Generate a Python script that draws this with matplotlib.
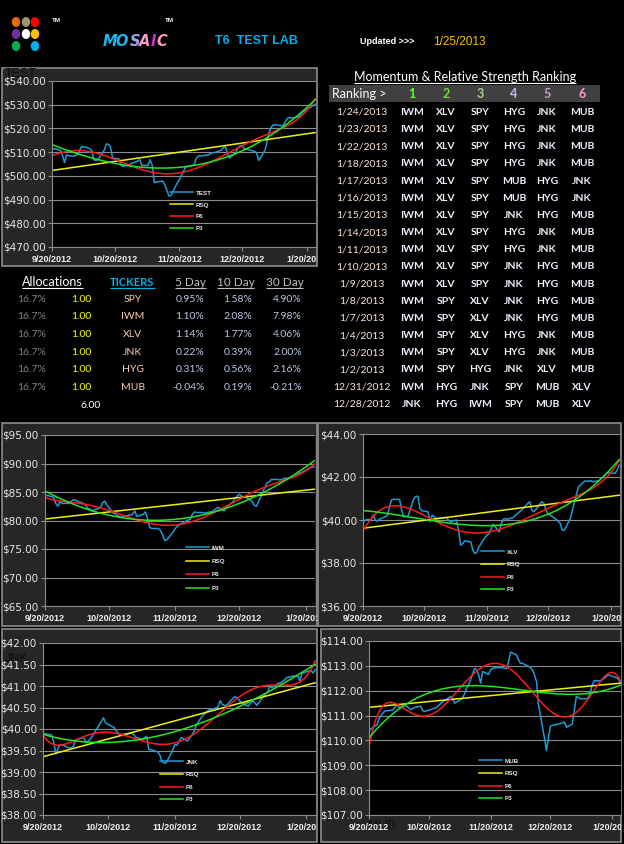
import matplotlib
matplotlib.use("Agg")
import matplotlib.pyplot as plt
import matplotlib.dates as mdates
from matplotlib.patches import Rectangle, Ellipse
from matplotlib.transforms import Bbox, TransformedBbox
import numpy as np
import pandas as pd

W, H = 624, 844

# trading days on the charts (market closed on these)
closed = ["2012-10-29", "2012-10-30", "2012-11-22", "2012-12-25", "2013-01-01", "2013-01-21"]
dates = pd.bdate_range("2012-09-20", "2013-01-24").drop(pd.to_datetime(closed))

test_px = [511.0, 511.5, 510.8, 508.7, 505.6, 508.9, 508.4, 508.4, 508.9, 510.3,
           512.2, 512.4, 511.5, 510.8, 506.8, 506.5, 506.8, 510.8, 513.4, 513.3,
           512.4, 507.5, 507.2, 504.4, 504.0, 504.2, 504.4, 506.3, 506.8, 504.4,
           504.4, 506.8, 504.4, 497.1, 497.4, 497.8, 496.4, 493.9, 491.5, 491.8,
           497.1, 498.4, 500.2, 503.7, 504.4, 504.7, 507.2, 508.4, 508.4, 508.7,
           508.9, 509.4, 509.8, 509.8, 510.8, 511.9, 512.4, 509.4, 507.5, 509.8,
           511.7, 512.6, 512.9, 511.5, 510.8, 510.3, 509.4, 506.5, 510.8, 518.5,
           520.6, 521.6, 521.3, 521.0, 521.6, 523.4, 524.5, 524.5, 524.7, 524.8,
           525.8, 526.9, 529.0, 529.7, 530.2]
iwm_px = [84.3, 84.4, 84.1, 83.0, 82.5, 83.3, 83.0, 83.0, 83.3, 83.6,
          83.6, 83.4, 83.0, 82.7, 82.1, 82.0, 81.7, 82.1, 82.3, 83.1,
          83.4, 82.7, 81.3, 81.1, 80.8, 80.7, 80.6, 81.1, 81.7, 80.7,
          81.1, 81.5, 80.4, 78.8, 78.6, 78.6, 78.3, 77.5, 76.5, 76.6,
          78.0, 78.6, 79.0, 79.5, 80.1, 80.2, 81.1, 81.5, 81.4, 81.4,
          81.3, 81.4, 81.5, 81.5, 82.3, 82.1, 81.8, 81.7, 82.3, 83.3,
          83.9, 84.3, 84.6, 84.3, 83.9, 83.3, 82.7, 82.5, 85.1, 86.6,
          86.8, 87.2, 87.2, 87.1, 87.2, 87.4, 87.4, 87.6, 87.8, 88.0,
          88.3, 88.4, 89.2, 89.4, 89.4]
xlv_px = [39.85, 40.0, 40.03, 40.23, 40.0, 39.95, 40.03, 40.15, 40.23, 40.58,
          40.93, 40.96, 40.96, 40.46, 40.15, 40.15, 40.15, 41.0, 41.1, 41.1,
          40.54, 40.43, 40.38, 39.92, 40.23, 40.15, 40.07, 40.12, 40.0, 39.92,
          40.0, 39.53, 38.83, 38.9, 39.03, 38.98, 38.6, 38.44, 38.5, 38.75,
          39.18, 39.3, 39.37, 39.8, 39.45, 39.84, 40.03, 40.07, 40.03, 40.12,
          40.23, 40.3, 40.38, 40.46, 40.77, 40.85, 40.46, 40.38, 40.49, 40.85,
          40.77, 40.46, 40.27, 40.23, 40.03, 39.84, 39.53, 39.53, 40.07, 40.85,
          41.2, 41.55, 41.81, 41.81, 41.81, 41.83, 41.78, 41.83, 41.93, 41.98,
          42.09, 42.2, 42.17, 42.32, 42.55]
jnk_px = [39.89, 39.89, 39.86, 39.68, 39.42, 39.56, 39.64, 39.59, 39.56, 39.56,
          39.59, 39.73, 39.8, 39.78, 39.68, 39.72, 39.77, 40.01, 40.09, 40.18,
          40.26, 40.14, 40.06, 40.03, 39.95, 39.89, 39.87, 39.9, 39.87, 39.81,
          39.76, 39.8, 39.83, 39.52, 39.52, 39.47, 39.41, 39.25, 39.21, 39.21,
          39.5, 39.64, 39.62, 39.8, 39.72, 39.8, 39.86, 39.95, 40.09, 40.32,
          40.35, 40.41, 40.45, 40.45, 40.51, 40.66, 40.57, 40.55, 40.55, 40.72,
          40.75, 40.72, 40.66, 40.61, 40.53, 40.66, 40.61, 40.55, 40.76, 40.86,
          40.99, 40.96, 41.07, 41.07, 41.11, 41.15, 41.2, 41.23, 41.23, 41.23,
          41.11, 41.3, 41.36, 41.3, 41.38]
mub_px = [110.37, 110.47, 110.63, 110.87, 111.01, 111.1, 111.19, 111.21, 111.23, 111.33,
          111.44, 111.33, 111.41, 111.37, 111.3, 111.23, 111.3, 111.37, 111.37, 111.19,
          111.17, 111.19, 111.27, 111.3, 111.33, 111.41, 111.5, 111.77, 111.68, 111.5,
          111.64, 111.7, 111.9, 112.1, 112.24, 112.9, 112.84, 112.64, 112.3, 112.77,
          112.66, 112.84, 112.9, 112.93, 112.93, 112.9, 112.88, 113.17, 113.55, 113.44,
          113.24, 113.1, 113.1, 113.06, 112.93, 112.84, 112.64, 112.37, 111.44, 110.1,
          109.59, 110.1, 110.57, 110.61, 110.66, 110.7, 110.74, 110.53, 110.66, 111.77,
          111.73, 111.68, 111.68, 111.73, 111.94, 112.24, 112.4, 112.4, 112.44, 112.5,
          112.57, 112.64, 112.53, 112.48, 112.34]

test_ticks = [470, 480, 490, 500, 510, 520, 530, 540]
iwm_ticks = [65, 70, 75, 80, 85, 90, 95]
xlv_ticks = [36, 38, 40, 42, 44]
jnk_ticks = [38.0, 38.5, 39.0, 39.5, 40.0, 40.5, 41.0, 41.5, 42.0]
mub_ticks = [107, 108, 109, 110, 111, 112, 113, 114]

tick_dates = ["2012-09-20", "2012-10-20", "2012-11-20", "2012-12-20", "2013-01-20"]
tick_labels = ["9/20/2012", "10/20/2012", "11/20/2012", "12/20/2012", "1/20/2013"]

# ranking table
rank_dates = ["1/24/2013", "1/23/2013", "1/22/2013", "1/18/2013", "1/17/2013", "1/16/2013",
              "1/15/2013", "1/14/2013", "1/11/2013", "1/10/2013", "1/9/2013", "1/8/2013",
              "1/7/2013", "1/4/2013", "1/3/2013", "1/2/2013", "12/31/2012", "12/28/2012"]
rank_rows = [
    ["IWM", "XLV", "SPY", "HYG", "JNK", "MUB"],
    ["IWM", "XLV", "SPY", "HYG", "JNK", "MUB"],
    ["IWM", "XLV", "SPY", "HYG", "JNK", "MUB"],
    ["IWM", "XLV", "SPY", "HYG", "JNK", "MUB"],
    ["IWM", "XLV", "SPY", "MUB", "HYG", "JNK"],
    ["IWM", "XLV", "SPY", "MUB", "HYG", "JNK"],
    ["IWM", "XLV", "SPY", "JNK", "HYG", "MUB"],
    ["IWM", "XLV", "SPY", "HYG", "JNK", "MUB"],
    ["IWM", "XLV", "SPY", "HYG", "JNK", "MUB"],
    ["IWM", "XLV", "SPY", "JNK", "HYG", "MUB"],
    ["IWM", "XLV", "SPY", "JNK", "HYG", "MUB"],
    ["IWM", "SPY", "XLV", "JNK", "HYG", "MUB"],
    ["IWM", "SPY", "XLV", "JNK", "HYG", "MUB"],
    ["IWM", "SPY", "XLV", "HYG", "JNK", "MUB"],
    ["IWM", "SPY", "XLV", "HYG", "JNK", "MUB"],
    ["IWM", "SPY", "HYG", "JNK", "XLV", "MUB"],
    ["IWM", "HYG", "JNK", "SPY", "MUB", "XLV"],
    ["JNK", "HYG", "IWM", "SPY", "MUB", "XLV"],
]

# allocations table
alloc_pct = [16.7, 16.7, 16.7, 16.7, 16.7, 16.7]
alloc_units = [1.00, 1.00, 1.00, 1.00, 1.00, 1.00]
tickers = ["SPY", "IWM", "XLV", "JNK", "HYG", "MUB"]
ret_5d = [0.95, 1.10, 1.14, 0.22, 0.31, -0.04]
ret_10d = [1.58, 2.08, 1.77, 0.39, 0.56, 0.19]
ret_30d = [4.90, 7.98, 4.06, 2.00, 2.16, -0.21]

BLUE, YEL, RED, GRN = "#1e9ad6", "#f0f010", "#ff1a1a", "#22e622"
GRID = "#8c8c8c"
LAB = "Lato"

fig = plt.figure(figsize=(W / 100, H / 100), dpi=100, facecolor="black")
bg = fig.add_axes([0, 0, 1, 1])
bg.set_xlim(0, W)
bg.set_ylim(H, 0)
bg.axis("off")


def fig_rect(x0, y0, x1, y1):
    return [x0 / W, 1 - y1 / H, (x1 - x0) / W, (y1 - y0) / H]


xnum = mdates.date2num(dates)
tick_num = mdates.date2num(pd.to_datetime(tick_dates))


def chart(plot, box, name, px, yticks, leg, title=None):
    x0, y0, x1, y1 = box
    # chart area: dark grey fill with a light grey border
    bg.add_patch(Rectangle((x0, y0), x1 - x0, y1 - y0, fc="#262626", ec="#8c8c8c", lw=1.2))
    if title:
        bg.text(title[0], title[1], name, color="#0e0e0e", fontsize=9,
                family="Liberation Sans", va="center", ha="left")
    ax = fig.add_axes(fig_rect(*plot))
    ax.set_facecolor("black")
    px = np.asarray(px)
    t = xnum - xnum[0]
    tt = np.linspace(t[0], t[-1], 400)
    ax.plot(xnum, px, color=BLUE, lw=1.1, label=name)
    # Excel-style trendlines: linear, 6th and 3rd order polynomial
    for deg, col, lab in [(1, YEL, "RSQ"), (6, RED, "P6"), (3, GRN, "P3")]:
        coef = np.polyfit(t / 63.0, px, deg)
        ax.plot(xnum[0] + tt, np.polyval(coef, tt / 63.0), color=col, lw=1.1, label=lab)
    ax.set_xlim(xnum[0], xnum[-1] + 0.4)
    ax.set_ylim(yticks[0], yticks[-1])
    ax.set_yticks(yticks)
    ax.set_yticklabels(["${:,.2f}".format(v) for v in yticks])
    ax.set_xticks(tick_num)
    ax.set_xticklabels(tick_labels)
    ax.yaxis.grid(True, color=GRID, lw=0.8)
    ax.set_axisbelow(True)
    for s in ["top", "right"]:
        ax.spines[s].set_visible(False)
    for s in ["left", "bottom"]:
        ax.spines[s].set_color(GRID)
        ax.spines[s].set_linewidth(0.8)
    ax.tick_params(axis="y", length=3, width=0.8, color=GRID, pad=1.5,
                   labelsize=7.5, labelcolor="#e8e8e8")
    ax.tick_params(axis="x", length=3, width=0.8, color=GRID, pad=2.5,
                   labelsize=6.5, labelcolor="#f0f0f0")
    clip = TransformedBbox(Bbox.from_extents(x0 / W, 1 - y1 / H, x1 / W, 1 - y0 / H),
                           fig.transFigure)
    for tk in ax.xaxis.get_major_ticks():
        tk.label1.set_family("Liberation Sans")
        tk.label1.set_weight("bold")
        tk.label1.set_clip_box(clip)
        tk.label1.set_clip_on(True)
    for tk in ax.yaxis.get_major_ticks():
        tk.label1.set_family("DejaVu Sans")
    hx, hy, pitch = leg
    fs = 4.5
    em = fs * 100 / 72
    ax.legend(loc="upper left", bbox_to_anchor=(hx / W, 1 - (hy - 0.6 * em) / H),
              bbox_transform=fig.transFigure, frameon=False, borderpad=0, borderaxespad=0,
              handlelength=23 / em, handletextpad=0.4, labelspacing=(pitch - 1.2 * em) / em,
              prop={"size": fs, "weight": "bold", "family": "Liberation Sans"},
              labelcolor="#e6e6e6")
    return ax


chart((52, 81, 316, 247), (2, 68, 317, 266), "TEST", test_px, test_ticks, (170, 194, 14),
      title=(5, 74))
chart((45, 435, 315, 606), (2, 423, 317, 626), "IWM", iwm_px, iwm_ticks, (186, 549, 15.5))
chart((363, 434, 620, 606), (318, 423, 621, 626), "XLV", xlv_px, xlv_ticks, (481, 553, 14.7))
chart((43, 643, 316, 815), (2, 629, 317, 842), "JNK", jnk_px, jnk_ticks, (160, 763, 14.7),
      title=(5, 659))
chart((369, 641, 621, 815), (321, 629, 621, 842), "MUB", mub_px, mub_ticks, (479, 762, 14.7),
      title=(368, 826))

# ---- header ----
dots = [(16, 22, "#e36c0a"), (26, 22, "#9c9768"), (35, 22, "#ff0000"),
        (16, 34, "#7030a0"), (26, 34, "#ffffff"), (35, 34, "#ffc000"),
        (16, 46, "#00b050"), (35, 46, "#00b0f0")]
for x, y, c in dots:
    bg.add_patch(Ellipse((x, y), 8.5, 10, color=c, lw=0))
for x in (56, 169):
    bg.text(x, 21, "TM", color="white", fontsize=4.5, family="Liberation Sans",
            weight="bold", ha="center", va="center")
for ch, x, c in [("M", 110, "#1fb4f0"), ("O", 122, "#1fb4f0"), ("S", 135, "#9aa6f0"),
                 ("A", 145, "#ff99cc"), ("I", 153, "#cc33cc"), ("C", 162, "#ff99bb")]:
    bg.text(x, 41, ch, color=c, fontsize=10.5, family="DejaVu Sans", weight="bold",
            style="italic", ha="center", va="center")
bg.text(256, 41, "T6  TEST LAB", color="#00b0f0", fontsize=9, family="Liberation Sans",
        weight="bold", ha="center", va="center")
bg.text(387, 42, "Updated >>>", color="white", fontsize=6.5, family="Liberation Sans",
        weight="bold", ha="center", va="center")
bg.text(459, 42, "1/25/2013", color="#ffc000", fontsize=8.5, family="Liberation Sans",
        ha="center", va="center")

underlined = []

# ---- ranking table ----
t = bg.text(465, 77, "Momentum & Relative Strength Ranking", color="white", fontsize=9,
            family=LAB, ha="center", va="center")
underlined.append((t, "white"))
bg.add_patch(Rectangle((329, 85), 271, 17, color="#404040", lw=0))
bg.text(332, 94, "Ranking >", color="white", fontsize=9, family=LAB, ha="left", va="center")
col_x = [412, 446, 480, 514, 547, 582]
num_cols = ["#5cff2e", "#70e040", "#a8d08d", "#c8b9f2", "#d49ad8", "#ff99cc"]
for i, (x, c) in enumerate(zip(col_x, num_cols)):
    bg.text(x, 94, str(i + 1), color=c, fontsize=9, family=LAB, weight="bold",
            ha="center", va="center")
for r, (d, row) in enumerate(zip(rank_dates, rank_rows)):
    y = 112.3 + r * 17.18
    bg.text(362, y, d, color="#fbe5d6", fontsize=7.5, family=LAB, ha="center", va="center")
    for x, tk in zip(col_x, row):
        bg.text(x, y, tk, color="#eef2ff", fontsize=7.5, family=LAB, weight="bold",
                ha="center", va="center")

# ---- allocations table ----
hdr_y = 282
t = bg.text(52.5, hdr_y, "Allocations", color="white", fontsize=9, family=LAB,
            ha="center", va="center")
underlined.append((t, "white"))
t = bg.text(132.5, hdr_y, "TICKERS", color="#00b0f0", fontsize=8, family=LAB, weight="bold",
            ha="center", va="center")
underlined.append((t, "#00b0f0"))
for x, s in [(190.5, "5 Day"), (235.5, "10 Day"), (284.5, "30 Day")]:
    t = bg.text(x, hdr_y, s, color="#bfbfbf", fontsize=8.5, family=LAB, ha="center",
                va="center")
    underlined.append((t, "#bfbfbf"))
for i in range(len(tickers)):
    y = 299.3 + i * 17.6
    bg.text(45.7, y, "{:.1f}%".format(alloc_pct[i]), color="#808080", fontsize=7.5,
            family=LAB, ha="right", va="center")
    bg.text(91.7, y, "{:.2f}".format(alloc_units[i]), color="#ffff00", fontsize=7.5,
            family=LAB, ha="right", va="center")
    bg.text(132.7, y, tickers[i], color="#f8cbad", fontsize=7.5, family=LAB,
            ha="center", va="center")
    for x, vals in [(204.3, ret_5d), (252.3, ret_10d), (301.7, ret_30d)]:
        bg.text(x, y, "{:.2f}%".format(vals[i]), color="#b8c8e2", fontsize=7.5,
                family=LAB, ha="right", va="center")
bg.text(100.7, 405, "{:.2f}".format(sum(alloc_units)), color="white", fontsize=7.5,
        family=LAB, ha="right", va="center")

renderer = fig.canvas.get_renderer()
for t, c in underlined:
    bb = t.get_window_extent(renderer)
    yy = H - bb.y0 + 0.2
    bg.plot([bb.x0, bb.x1], [yy, yy], color=c, lw=0.8, solid_capstyle="butt")

fig.savefig("out.png", dpi=100, facecolor="black")
